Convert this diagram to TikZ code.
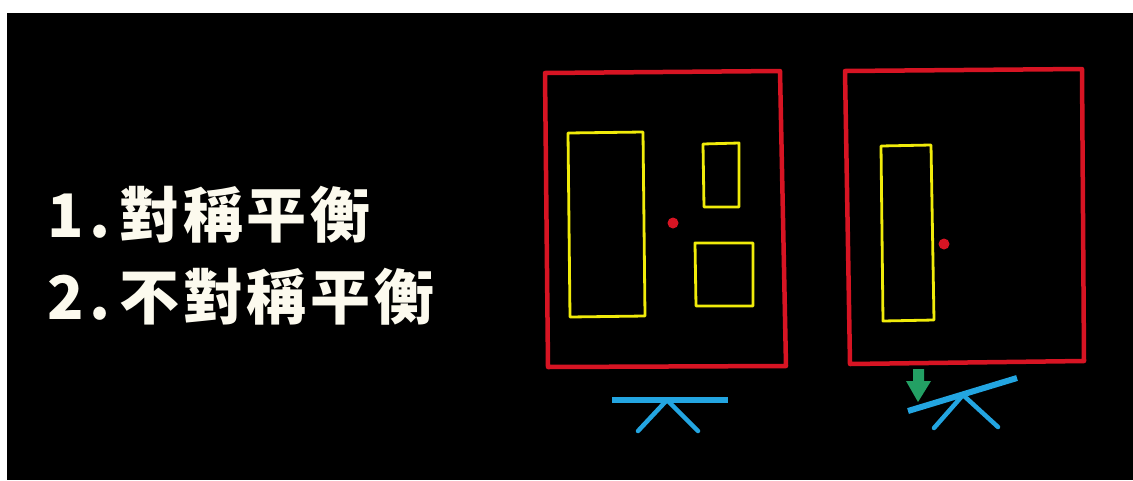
\documentclass[tikz,border=0pt]{standalone}
\usepackage{fontspec}
\newfontfamily\cjk[LetterSpace=6]{Noto Sans CJK TC}
\definecolor{frame}{RGB}{215,20,35}
\definecolor{ylw}{RGB}{240,235,10}
\definecolor{cyanb}{RGB}{35,165,225}
\definecolor{grn}{RGB}{35,160,100}
\definecolor{txt}{RGB}{252,250,238}
\tikzset{
  redbox/.style={draw=frame,line width=4.5pt,line join=round},
  ylwbox/.style={draw=ylw,line width=2.8pt,line join=round},
  beam/.style={draw=cyanb,line width=6pt},
  leg/.style={draw=cyanb,line width=4.5pt,line cap=round},
  label/.style={text=txt,font=\cjk\bfseries\fontsize{60}{62}\selectfont,inner sep=0pt,anchor=base west}
}
\begin{document}
\begin{tikzpicture}[x=1pt,y=-1pt]
\useasboundingbox (0,0) rectangle (1133,480);
\fill[white] (0,0) rectangle (1133,480);
\fill[black] (7,13) rectangle (1133,480);
% text
\node[label] (t1) at (47,237) {1\hspace{6pt}.\hspace{9pt}對稱平衡};
\node[label] (t2) at (47,319) {2\hspace{6pt}.\hspace{9pt}不對稱平衡};
% left frame
\draw[redbox] (545,73) -- (780,71) -- (786,366) -- (548,367) -- cycle;
\draw[ylwbox] (568,133) -- (643,132) -- (645,316) -- (570,317) -- cycle;
\draw[ylwbox] (703,144) -- (739,143) -- (739,207) -- (704,207) -- cycle;
\draw[ylwbox] (695,243) -- (753,243) -- (753,306) -- (696,306) -- cycle;
\fill[frame] (673,223) circle (5.5);
% right frame
\draw[redbox] (845,71) -- (1082,69) -- (1084,361) -- (850,364) -- cycle;
\draw[ylwbox] (881,146) -- (931,145) -- (934,320) -- (883,321) -- cycle;
\fill[frame] (944,244) circle (5.5);
% left seesaw
\coordinate (la) at (667,400);
\draw[beam] (612,400) -- (728,400);
\draw[leg] (la) -- (638,431);
\draw[leg] (la) -- (698,431);
% right seesaw
\coordinate (ra) at (963,395);
\draw[beam] (908,411) -- (1017,378);
\draw[leg] (ra) -- (934,428);
\draw[leg] (ra) -- (998,427);
% green arrow
\fill[grn] (913,369) -- (924,369) -- (924,381) -- (931,381) -- (918,402) -- (906,381) -- (913,381) -- cycle;
\end{tikzpicture}
\end{document}
